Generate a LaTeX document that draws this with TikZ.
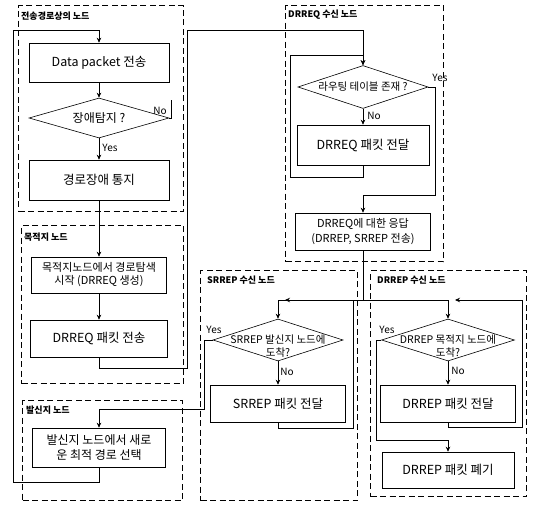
\documentclass[tikz,border=0pt]{standalone}
\usepackage{fontspec}
\setmainfont{Noto Sans CJK KR}
\usetikzlibrary{shapes.geometric,arrows.meta}
\begin{document}
\begin{tikzpicture}[x=1pt,y=-1pt,
  grp/.style={draw, line width=1.3pt, dash pattern=on 6pt off 3.5pt, inner sep=0pt, anchor=north west},
  grplabel/.style={anchor=west, inner sep=0pt, font=\fontsize{9}{10}\selectfont\bfseries},
  proc/.style={draw, line width=0.6pt, inner sep=0pt, align=center, font=\fontsize{12.5}{14}\selectfont},
  dec/.style={draw, diamond, line width=0.6pt, inner sep=0pt},
  dtext/.style={inner sep=0pt, font=\fontsize{10.5}{13}\selectfont},
  yn/.style={inner sep=0pt, font=\fontsize{10}{11}\selectfont},
  ln/.style={line width=0.7pt},
  arr/.style={line width=0.7pt, -{Stealth[length=5pt,width=4.5pt]}}
]
\useasboundingbox (0,0) rectangle (536,506);

% groups
\node[grp, minimum width=165pt, minimum height=206pt] (g1) at (18,5) {};
\node[grp, minimum width=162pt, minimum height=158pt] (g2) at (21,225) {};
\node[grp, minimum width=160pt, minimum height=100pt] (g3) at (22,400) {};
\node[grp, minimum width=158pt, minimum height=256pt] (g4) at (285,5) {};
\node[grp, minimum width=157pt, minimum height=230pt] (g5) at (200,270) {};
\node[grp, minimum width=156pt, minimum height=226pt] (g6) at (370,270) {};

\node[grplabel] (l1) at (21,16) {전송경로상의 노드};
\node[grplabel] (l2) at (24,237) {목적지 노드};
\node[grplabel] (l3) at (26,410) {발신지 노드};
\node[grplabel] (l4) at (288,15) {DRREQ 수신 노드};
\node[grplabel] (l5) at (207,280) {SRREP 수신 노드};
\node[grplabel] (l6) at (377,280) {DRREP 수신 노드};

% left column
\node[proc, minimum width=140pt, minimum height=39pt] (b1) at (99,62.5) {Data packet 전송};
\node[dec, minimum width=140pt, minimum height=40pt] (d1) at (99,118) {};
\node[dtext, font=\fontsize{12}{14}\selectfont] (d1t) at (d1.center) {장애탐지 ?};
\node[proc, minimum width=140pt, minimum height=40pt] (b2) at (99,180) {경로장애 통지};
\node[proc, minimum width=135pt, minimum height=36pt, font=\fontsize{11}{13}\selectfont] (b3) at (99,275) {목적지노드에서 경로탐색\\시작 (DRREQ 생성)};
\node[proc, minimum width=137pt, minimum height=37pt] (b4) at (99,338.5) {DRREQ 패킷 전송};
\node[proc, minimum width=133pt, minimum height=39pt, font=\fontsize{12}{15}\selectfont] (b5) at (99,447.5) {발신지 노드에서 새로\\운 최적 경로 선택};

% DRREQ column
\node[dec, minimum width=130pt, minimum height=43pt] (d2) at (363,87) {};
\node[dtext] (d2t) at (d2.center) {라우팅 테이블 존재 ?};
\node[proc, minimum width=132pt, minimum height=40pt] (b6) at (363,145) {DRREQ 패킷 전달};
\node[proc, minimum width=135pt, minimum height=37pt, font=\fontsize{11}{15}\selectfont] (b7) at (363,231.5) {DRREQ에 대한 응답\\(DRREP, SRREP 전송)};

% SRREP column
\node[dec, minimum width=130pt, minimum height=42pt] (d3) at (278,340) {};
\node[dtext, anchor=base] (d3t) at (278,343) {SRREP 발신지 노드에};
\node[dtext, anchor=base] (d3u) at (278,356) {도착?};
\node[proc, minimum width=135pt, minimum height=37pt] (b8) at (278,403.5) {SRREP 패킷 전달};

% DRREP column
\node[dec, minimum width=133pt, minimum height=42pt] (d4) at (448,340) {};
\node[dtext, anchor=base] (d4t) at (448,343) {DRREP 목적지 노드에};
\node[dtext, anchor=base] (d4u) at (448,356) {도착?};
\node[proc, minimum width=135pt, minimum height=37pt] (b9) at (448,403.5) {DRREP 패킷 전달};
\node[proc, minimum width=132pt, minimum height=36pt] (b10) at (448,470) {DRREP 패킷 폐기};

% yes/no labels
\node[yn] (n1) at (160,111) {No};
\node[yn] (y1) at (110,148) {Yes};
\node[yn] (n2) at (374,116) {No};
\node[yn] (y2) at (440,78) {Yes};
\node[yn] (n3) at (287,372) {No};
\node[yn] (y3) at (214,330) {Yes};
\node[yn] (n4) at (458,371) {No};
\node[yn] (y4) at (387,330) {Yes};

% coordinates
\coordinate (lpA) at (13,482);
\coordinate (lpB) at (99,30);
\coordinate (d1no) at (171,100);
\coordinate (rA) at (187,368);
\coordinate (rB) at (363,30);
\coordinate (qA) at (290,177);
\coordinate (qB) at (363,55);
\coordinate (yA) at (435,195);
\coordinate (sA) at (363,300);
\coordinate (tA) at (204,409);
\coordinate (uA) at (353,428);
\coordinate (uB) at (285,300);
\coordinate (vA) at (376,440);
\coordinate (wA) at (522,427);
\coordinate (wB) at (455,300);

% connectors
\draw[arr] (b5.south) |- (lpA) |- (lpB) -- (b1.north);
\draw[arr] (b1.south) -- (d1.north);
\draw[arr] (d1.south) -- (b2.north);
\draw[ln] (d1.east) -| (d1no);
\draw[arr] (b2.south) -- (b3.north);
\draw[arr] (b3.south) -- (b4.north);
\draw[arr] (b4.south) |- (rA) |- (rB) -- (d2.north);
\draw[arr] (b6.south) |- (qA) |- (qB) -- (d2.north);
\draw[arr] (d2.south) -- (b6.north);
\draw[arr] (d2.east) -| (yA) -| (b7.north);
\draw[ln] (b7.south) -- (sA);
\draw[arr] (sA) -| (d3.north);
\draw[arr] (sA) -| (d4.north);
\draw[arr] (d3.west) -| (tA) -| (b5.north);
\draw[arr] (d3.south) -- (b8.north);
\draw[arr] (b8.south) |- (uA) |- (uB);
\draw[arr] (d4.west) -| (vA) -| (b10.north);
\draw[arr] (d4.south) -- (b9.north);
\draw[arr] (b9.south) |- (wA) |- (wB);
\end{tikzpicture}
\end{document}
